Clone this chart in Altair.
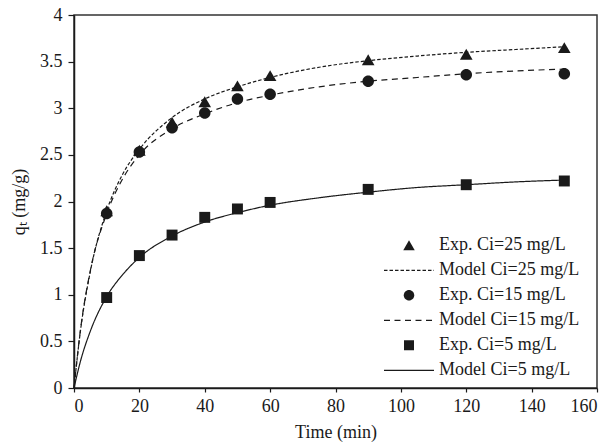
import altair as alt
import pandas as pd

# Experimental data
exp_time = [10, 20, 30, 40, 50, 60, 90, 120, 150]
exp_25 = [1.90, 2.55, 2.85, 3.07, 3.24, 3.35, 3.52, 3.58, 3.65]
exp_15 = [1.87, 2.53, 2.79, 2.95, 3.10, 3.15, 3.29, 3.36, 3.37]
exp_5 = [0.97, 1.42, 1.64, 1.83, 1.92, 1.99, 2.13, 2.18, 2.22]

# Model curves
mod_time = [0, 2, 5, 10, 15, 20, 30, 40, 50, 60, 75, 90, 105, 120, 135, 150]
mod_25 = [0, 0.62, 1.25, 1.90, 2.30, 2.56, 2.90, 3.10, 3.23, 3.33, 3.44, 3.51, 3.56, 3.60, 3.63, 3.66]
mod_15 = [0, 0.63, 1.26, 1.87, 2.25, 2.50, 2.78, 2.94, 3.06, 3.14, 3.23, 3.29, 3.33, 3.37, 3.40, 3.42]
mod_5 = [0, 0.29, 0.61, 0.98, 1.22, 1.40, 1.63, 1.78, 1.88, 1.96, 2.04, 2.10, 2.15, 2.18, 2.21, 2.23]

series = ["Exp. Ci=25 mg/L", "Model Ci=25 mg/L", "Exp. Ci=15 mg/L",
          "Model Ci=15 mg/L", "Exp. Ci=5 mg/L", "Model Ci=5 mg/L"]

exp_rows = []
for name, vals in [(series[0], exp_25), (series[2], exp_15), (series[4], exp_5)]:
    for t, v in zip(exp_time, vals):
        exp_rows.append({"t": t, "q": v, "series": name})
exp_df = pd.DataFrame(exp_rows)

mod_rows = []
for name, vals in [(series[1], mod_25), (series[3], mod_15), (series[5], mod_5)]:
    for t, v in zip(mod_time, vals):
        mod_rows.append({"t": t, "q": v, "series": name})
mod_df = pd.DataFrame(mod_rows)

FONT = "Liberation Serif"
INK = "#1a1a1a"

# legend glyphs: symbol box of 50 px maps to [-1, 1] (25 px per unit)
SYM_PX = 50.0
U = SYM_PX / 2.0


def dash_glyph(dash_px, gap_px, thick_px=1.3):
    h = thick_px / 2.0 / U
    parts = []
    x = -1.0
    while x < 1.0 - 1e-6:
        x2 = min(x + dash_px / U, 1.0)
        parts.append(f"M{x:.3f},{-h:.3f}H{x2:.3f}V{h:.3f}H{x:.3f}Z")
        x = x2 + gap_px / U
    return "".join(parts)


tri = "M0,-0.2L0.23,0.2L-0.23,0.2Z"
circ = "M0.21,0A0.21,0.21,0,1,1,-0.21,0A0.21,0.21,0,1,1,0.21,0Z"
sq = "M-0.2,-0.2H0.2V0.2H-0.2Z"
dash25 = dash_glyph(3.5, 2.0)
dash15 = dash_glyph(6.0, 4.5)
solid5 = dash_glyph(SYM_PX, 0)

shape_scale = alt.Scale(domain=series, range=[tri, dash25, circ, dash15, sq, solid5])
dash_scale = alt.Scale(domain=series, range=[[1, 0], [3.5, 2], [1, 0], [6, 4.5], [1, 0], [1, 0]])

legend = alt.Legend(
    title=None, orient="none", legendX=310, legendY=218,
    symbolSize=SYM_PX ** 2, symbolFillColor=INK, symbolStrokeColor=INK,
    symbolStrokeWidth=0, labelFont=FONT, labelFontSize=18, labelColor=INK,
    labelOffset=5, clipHeight=24.6, rowPadding=0,
)

x_enc = alt.X("t:Q", scale=alt.Scale(domain=[0, 160]),
              axis=alt.Axis(title="Time (min)", values=list(range(0, 161, 20)), tickSize=4, labelPadding=5, titlePadding=8))
y_enc = alt.Y("q:Q", scale=alt.Scale(domain=[0, 4]),
              axis=alt.Axis(title="qₜ (mg/g)", values=[0, 0.5, 1, 1.5, 2, 2.5, 3, 3.5, 4], format="~g",
                            tickSize=6, labelPadding=6, titlePadding=11))

lines = alt.Chart(mod_df).mark_line(color=INK, strokeWidth=1.2, interpolate="monotone").encode(
    x=x_enc, y=y_enc,
    detail="series:N",
    strokeDash=alt.StrokeDash("series:N", scale=dash_scale, legend=legend),
)

points = alt.Chart(exp_df).mark_point(
    filled=True, color=INK, fillOpacity=1, opacity=1, size=3000,
).encode(
    x=x_enc, y=y_enc,
    shape=alt.Shape("series:N", scale=shape_scale, legend=legend),
)

chart = alt.layer(lines, points).properties(
    width=523, height=373,
    autosize=alt.AutoSizeParams(type="none"),
    padding={"left": 74, "top": 15, "right": 15, "bottom": 58},
    background="white",
).configure_view(
    stroke="#333", strokeWidth=1.5
).configure_axis(
    grid=False, domainColor=INK, domainWidth=1.5, tickColor=INK, tickWidth=1.2,
    labelFont=FONT, labelFontSize=18, labelColor=INK,
    titleFont=FONT, titleFontSize=18, titleFontWeight="normal", titleColor=INK,
)

chart.save("out.html", embed_options={"renderer": "svg", "actions": False})
